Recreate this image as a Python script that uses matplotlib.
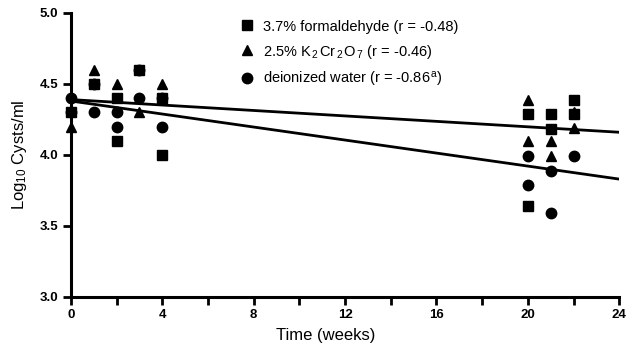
import matplotlib
matplotlib.use("Agg")
import matplotlib.pyplot as plt

plt.rcParams["font.family"] = ["Liberation Sans", "DejaVu Sans"]
plt.rcParams["mathtext.fontset"] = "custom"
plt.rcParams["mathtext.rm"] = "Liberation Sans"
plt.rcParams["mathtext.it"] = "Liberation Sans"

# 3.7% formaldehyde (squares)
form_weeks = [0, 1, 2, 2, 3, 4, 4, 20, 20, 21, 21, 22, 22]
form_vals = [4.30, 4.50, 4.40, 4.10, 4.60, 4.40, 4.00, 4.29, 3.64, 4.29, 4.18, 4.39, 4.29]

# 2.5% K2Cr2O7 (triangles)
kcr_weeks = [0, 1, 2, 3, 4, 20, 20, 21, 21, 22, 22]
kcr_vals = [4.20, 4.60, 4.50, 4.30, 4.50, 4.39, 4.10, 4.10, 3.99, 4.19, 4.30]

# deionized water (circles)
water_weeks = [0, 0, 1, 1, 2, 2, 3, 3, 4, 4, 20, 20, 21, 21, 22]
water_vals = [4.40, 4.30, 4.50, 4.30, 4.30, 4.20, 4.60, 4.40, 4.40, 4.20,
              3.99, 3.79, 3.89, 3.59, 3.99]

# regression lines (end points)
fit_weeks = [0, 24]
fit_upper = [4.39, 4.16]
fit_lower = [4.38, 3.83]

labels = [
    "3.7% formaldehyde (r = -0.48)",
    "2.5% K$_{\\,2\\,}$Cr$_{\\,2\\,}$O$_{\\,7}$ (r = -0.46)",
    "deionized water (r = -0.86$^{\\,a}$)",
]

fig = plt.figure(figsize=(6.28, 3.51), dpi=100)
ax = fig.add_axes([0.113, 0.154, 0.873, 0.809])

ax.plot(fit_weeks, fit_upper, color="black", lw=2.0, zorder=2)
ax.plot(fit_weeks, fit_lower, color="black", lw=2.0, zorder=2)

ax.plot(form_weeks, form_vals, ls="none", marker="s", ms=6.5, color="black",
        label=labels[0], clip_on=False, zorder=3)
ax.plot(kcr_weeks, kcr_vals, ls="none", marker="^", ms=7.5, color="black",
        label=labels[1], clip_on=False, zorder=3)
ax.plot(water_weeks, water_vals, ls="none", marker="o", ms=7.5, color="black",
        label=labels[2], clip_on=False, zorder=3)

ax.set_xlim(0, 24)
ax.set_ylim(3.0, 5.0)
ax.set_xticks(range(0, 25, 2))
ax.set_xticklabels([str(t) if t % 4 == 0 else "" for t in range(0, 25, 2)])
ax.set_yticks([3.0, 3.5, 4.0, 4.5, 5.0])
ax.set_yticklabels(["3.0", "3.5", "4.0", "4.5", "5.0"])

for s in ["top", "right"]:
    ax.spines[s].set_visible(False)
for s in ["left", "bottom"]:
    ax.spines[s].set_linewidth(2.2)

ax.tick_params(axis="both", direction="out", width=2, length=6, pad=3)
for lab in ax.get_xticklabels() + ax.get_yticklabels():
    lab.set_fontsize(9.5)
    lab.set_fontweight("bold")

ax.set_xlabel("Time (weeks)", fontsize=12)
ax.xaxis.set_label_coords(0.464, -0.11)
ax.set_ylabel("Log$_{10}$ Cysts/ml", fontsize=12, labelpad=8)

ax.legend(loc="upper left", bbox_to_anchor=(0.308, 0.977), frameon=False,
          fontsize=10.5, handletextpad=0.6, labelspacing=0.62, handlelength=1.0,
          borderpad=0, borderaxespad=0)

fig.savefig("out.png", dpi=100)
